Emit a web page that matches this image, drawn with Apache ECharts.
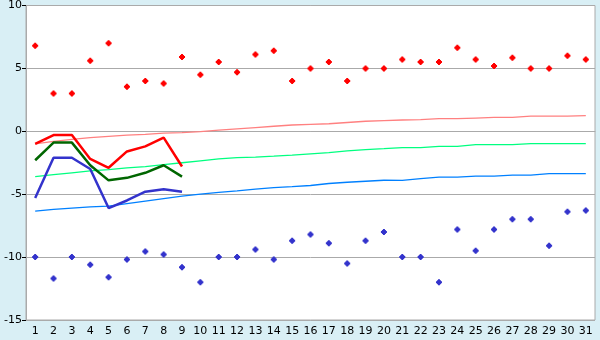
<!DOCTYPE html>
<html><head><meta charset="utf-8">
<script src="https://cdn.jsdelivr.net/npm/echarts@6/dist/echarts.min.js"></script>
<style>html,body{margin:0;padding:0;background:#d9eff5}#c{width:600px;height:340px}</style>
</head><body><div id="c"></div>
<script>
const categories = Array.from({length:31},(_,i)=>String(i+1));
const yTicks = [-15,-10,-5,0,5,10];
const redPoints = [6.8,3.0,3.0,5.6,7.0,3.55,4.0,3.8,5.9,4.5,5.5,4.7,6.1,6.4,4.0,5.0,5.5,4.0,5.0,5.0,5.7,5.5,5.5,6.65,5.7,5.2,5.85,5.0,5.0,6.0,5.7];
const bluePoints = [-10.0,-11.7,-10.0,-10.6,-11.6,-10.2,-9.55,-9.8,-10.8,-12.0,-10.0,-10.0,-9.4,-10.2,-8.7,-8.2,-8.9,-10.5,-8.7,-8.0,-10.0,-10.0,-12.0,-7.8,-9.5,-7.8,-7.0,-7.0,-9.1,-6.4,-6.3];
const redLine = [-1.0,-0.3,-0.3,-2.2,-2.9,-1.6,-1.2,-0.5,-2.8];
const greenLine = [-2.3,-0.9,-0.9,-2.7,-3.9,-3.7,-3.3,-2.7,-3.6];
const blueLine = [-5.3,-2.1,-2.1,-3.0,-6.1,-5.5,-4.8,-4.6,-4.8];
const pinkTrend = [-1.0,-0.8,-0.65,-0.5,-0.4,-0.3,-0.25,-0.15,-0.1,-0.03,0.1,0.2,0.3,0.4,0.5,0.55,0.6,0.7,0.8,0.85,0.9,0.93,1.0,1.0,1.05,1.1,1.1,1.2,1.2,1.2,1.25];
const greenTrend = [-3.6,-3.45,-3.3,-3.15,-3.05,-2.9,-2.8,-2.65,-2.5,-2.35,-2.2,-2.1,-2.05,-1.98,-1.9,-1.8,-1.7,-1.56,-1.45,-1.38,-1.3,-1.3,-1.2,-1.2,-1.06,-1.06,-1.06,-0.98,-0.98,-0.98,-0.98];
const blueTrend = [-6.35,-6.2,-6.1,-6.0,-5.95,-5.75,-5.55,-5.35,-5.16,-5.0,-4.85,-4.73,-4.6,-4.47,-4.4,-4.31,-4.15,-4.05,-3.97,-3.89,-3.9,-3.76,-3.65,-3.65,-3.57,-3.57,-3.49,-3.49,-3.36,-3.36,-3.36];

const plus = 'path://M2,0H4V1H5V2H6V4H5V5H4V6H2V5H1V4H0V2H1V1H2Z';
const chart = echarts.init(document.getElementById('c'), null, {renderer:'canvas'});
function line(data,color,w,z){return {type:'line',data:data,symbol:'none',lineStyle:{color:color,width:w},itemStyle:{color:color},z:z,animation:false};}
chart.setOption({
  animation:false,
  backgroundColor:'#d9eff5',
  grid:{left:26,right:5,top:5,bottom:20,show:true,backgroundColor:'#ffffff',borderColor:'#aaaaaa',borderWidth:1},
  xAxis:{type:'category',data:categories,boundaryGap:true,
    axisLine:{lineStyle:{color:'#aaaaaa'}},
    axisTick:{alignWithLabel:true,length:5,lineStyle:{color:'#000'}},
    axisLabel:{color:'#000',fontFamily:'DejaVu Sans',fontSize:11,margin:6,interval:0},
    splitLine:{show:false}},
  yAxis:{type:'value',min:yTicks[0],max:yTicks[yTicks.length-1],interval:5,
    axisLine:{show:true,lineStyle:{color:'#aaaaaa'}},
    axisTick:{show:true,length:4,lineStyle:{color:'#000'}},
    axisLabel:{color:'#000',fontFamily:'DejaVu Sans',fontSize:11,margin:4},
    splitLine:{show:true,lineStyle:{color:'#aaaaaa',width:1}}},
  series:[
    line(pinkTrend,'#ff8080',1.3,2),
    line(greenTrend,'#00ff80',1.3,2),
    line(blueTrend,'#0080ff',1.3,2),
    line(redLine,'#ff0000',2.5,3),
    line(greenLine,'#006600',2.5,3),
    line(blueLine,'#3333cc',2.5,3),
    {type:'scatter',data:redPoints,symbol:plus,symbolSize:6,itemStyle:{color:'#ff0000',opacity:1},z:4},
    {type:'scatter',data:bluePoints,symbol:plus,symbolSize:6,itemStyle:{color:'#3333cc',opacity:1},z:4}
  ]
});
</script></body></html>
